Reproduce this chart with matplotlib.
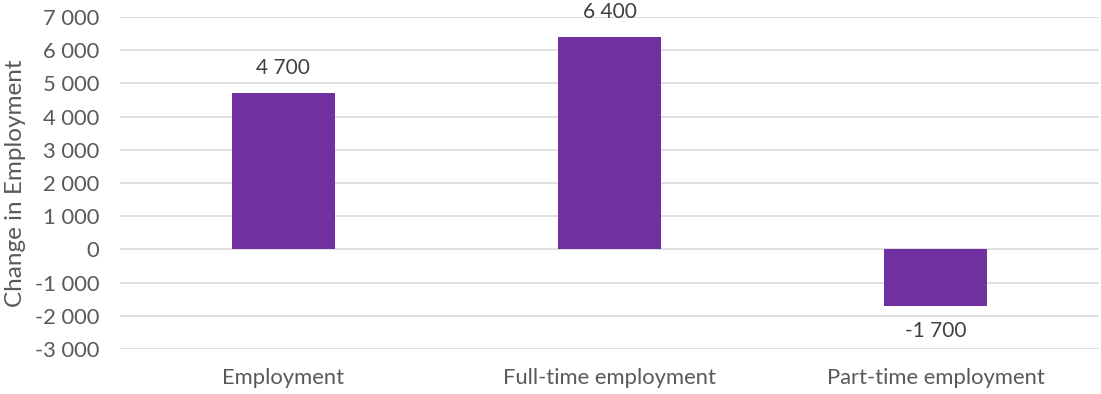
import matplotlib
matplotlib.use("Agg")
import matplotlib.pyplot as plt
import matplotlib.ticker as mticker

# Data
categories = ["Employment", "Full-time employment", "Part-time employment"]
changes = [4700, 6400, -1700]
y_ticks = list(range(-3000, 8000, 1000))

plt.rcParams['font.family'] = ['Lato', 'DejaVu Sans']
text_color = "#595959"
bar_color = "#7030A0"


def space_thousands(v, pos=None):
    s = f"{int(round(v)):,}".replace(",", " ")
    return s


fig = plt.figure(figsize=(11.01, 3.94), dpi=100)
ax = fig.add_axes([120 / 1101, 1 - 349 / 394, (1099 - 120) / 1101, (349 - 17) / 394])

x = range(len(categories))
bars = ax.bar(x, changes, width=0.315, color=bar_color, zorder=3)

ax.set_ylim(-3000, 7000)
ax.set_xlim(-0.5, len(categories) - 0.5)
ax.set_yticks(y_ticks)
ax.yaxis.set_major_formatter(mticker.FuncFormatter(space_thousands))
ax.grid(axis="y", color="#D9D9D9", linewidth=1.2, zorder=0)
ax.set_xticks(list(x))
ax.set_xticklabels(categories)

for s in ax.spines.values():
    s.set_visible(False)
ax.tick_params(length=0, labelsize=15.8, colors=text_color)
ax.tick_params(axis="y", pad=15)
ax.tick_params(axis="x", pad=14)

ax.set_ylabel("Change in Employment", fontsize=17.5, color=text_color)
ax.yaxis.set_label_coords(-94 / 979, 0.5)

# Value labels
for xi, v in zip(x, changes):
    if v >= 0:
        ax.annotate(space_thousands(v), (xi, v), xytext=(0, 11), textcoords="offset points",
                    ha="center", va="bottom", fontsize=15, color="#404040")
    else:
        ax.annotate(space_thousands(v), (xi, v), xytext=(0, -11), textcoords="offset points",
                    ha="center", va="top", fontsize=15, color="#404040")

fig.savefig("out.png", dpi=100)
